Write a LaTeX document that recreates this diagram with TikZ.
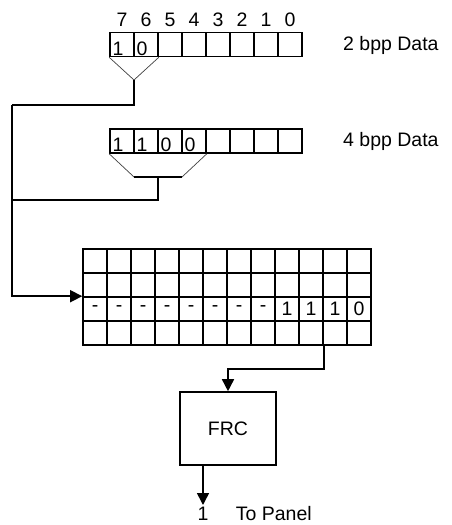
\documentclass[tikz,border=0pt]{standalone}
\usepackage{fontspec}
\setmainfont{Liberation Sans}
\usetikzlibrary{arrows.meta,positioning}

\begin{document}
\begin{tikzpicture}[x=1pt,y=-1pt,font=\fontsize{19.5}{22}\selectfont,
    cell/.style={draw=black,line width=1.6pt,minimum width=24pt,minimum height=24pt,inner sep=0pt},
    regcell/.style={cell,text width=19pt,align=left,text height=21pt,text depth=0pt},
    txt/.style={inner sep=2pt},
    wire/.style={line width=1.6pt},
    flow/.style={wire,-{Triangle[length=12pt,width=12pt]}},
    funnel/.style={line width=0.7pt,black!75}]
    \useasboundingbox (0,0) rectangle (451,525);

    % 2 bpp register with bit numbers
    \foreach \b/\v [count=\i from 0] in {7/1,6/0,5/{},4/{},3/{},2/{},1/{},0/{}}
        \node[regcell] (a\b) at (122+24*\i,44.5) {\v};
    \foreach \b in {7,...,0}
        \node[inner sep=0pt,above=5pt of a\b] (n\b) {\b};
    \node[txt,anchor=base west] (bpp2) at (341,50) {2 bpp Data};
    \coordinate (apexA) at (134,80);
    \draw[funnel] (a7.south west) -- (apexA) -- (a6.south east);

    % 4 bpp register
    \foreach \b/\v [count=\i from 0] in {7/1,6/1,5/0,4/0,3/{},2/{},1/{},0/{}}
        \node[regcell] (b\b) at (122+24*\i,141) {\v};
    \node[txt,anchor=base west] (bpp4) at (341,146) {4 bpp Data};
    \coordinate (lowB1) at (134,177);
    \coordinate (lowB2) at (182,177);
    \draw[funnel] (b7.south west) -- (lowB1);
    \draw[funnel] (b4.south east) -- (lowB2);
    \draw[wire] (lowB1) -- coordinate (midB) (lowB2);

    % lookup grid
    \foreach \r in {1,2,4}
        \foreach \c in {1,...,12}
            \node[cell] (g-\r-\c) at (71+24*\c,237+24*\r) {};
    \foreach \v [count=\c] in {-,-,-,-,-,-,-,-,1,1,1,0}
        \node[cell] (g-3-\c) at (71+24*\c,309) {\v};

    % feed lines into the grid
    \coordinate (bendA) at (12,105);
    \coordinate (bendB) at (12,200);
    \draw[wire] (apexA) |- (bendA);
    \draw[wire] (midB) |- (bendB);
    \draw[flow] (bendA) |- (g-3-1.north west);

    % FRC and output
    \node[draw,line width=1.6pt,minimum width=96pt,minimum height=73pt] (frc) at (228,428.5) {FRC};
    \draw[flow] (g-4-10.south east) -- ++(0,23) -| (frc.north);
    \node[txt,anchor=north] (one) at (203,505) {1};
    \draw[flow] ([xshift=-25pt]frc.south) -- (one);
    \node[txt,base right=23pt of one] (panel) {To Panel};
\end{tikzpicture}
\end{document}
